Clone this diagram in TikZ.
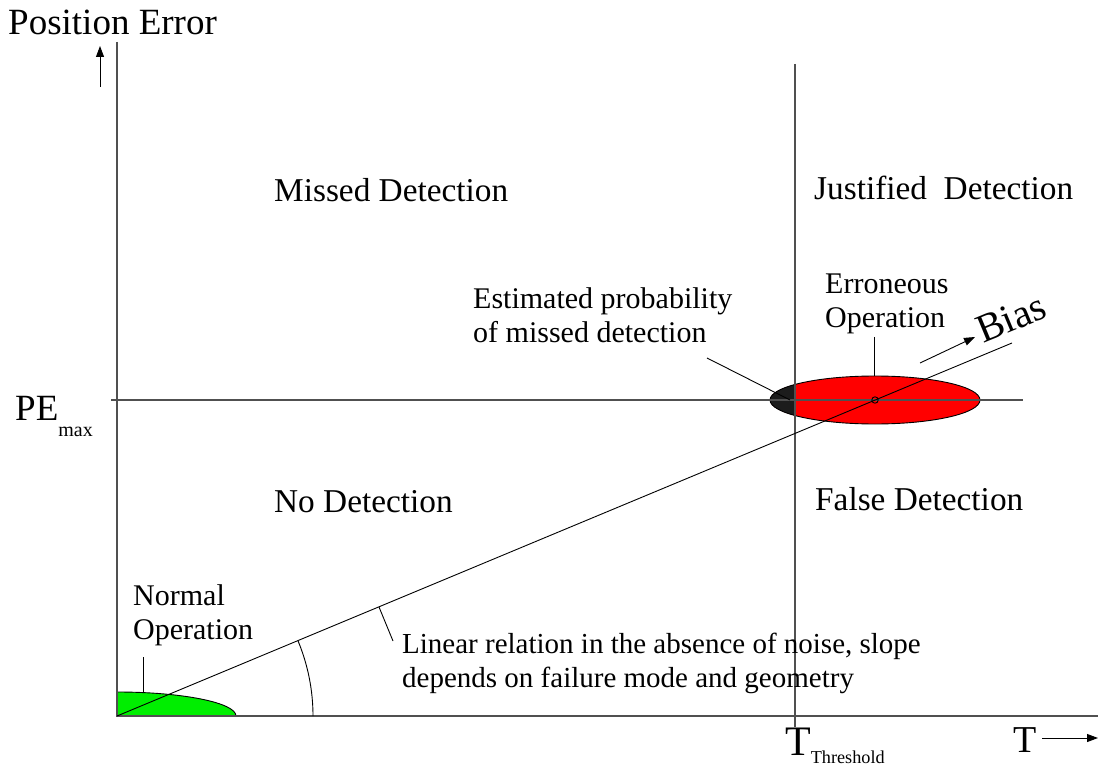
\documentclass[tikz,border=0pt]{standalone}
\usepackage{fontspec}
\setmainfont{Liberation Serif}
\usetikzlibrary{arrows.meta}
\definecolor{errred}{RGB}{255,0,0}
\definecolor{missdark}{RGB}{28,28,28}
\definecolor{normgreen}{RGB}{0,238,0}
\definecolor{axisgray}{RGB}{80,80,80}
\begin{document}
\begin{tikzpicture}[x=1pt,y=-1pt,
  axisline/.style={line width=1.4pt, draw=axisgray},
  thinline/.style={line width=0.9pt, draw=black},
  pointer/.style={thinline, -{Triangle[length=11pt,width=8pt]}},
  region/.style={inner sep=0pt, anchor=base west, font=\fontsize{33.3}{33.3}\selectfont},
  note/.style={inner sep=0pt, anchor=base west, align=left, font=\fontsize{30}{34}\selectfont},
  bigtxt/.style={inner sep=0pt, anchor=base west, font=\fontsize{37}{37}\selectfont}]
\useasboundingbox (0,0) rectangle (1098,767);

% key points of the chart
\coordinate (O) at (117,716);
\coordinate (ytop) at (117,42);
\coordinate (xend) at (1098,716);
\coordinate (thtop) at (795,64);
\coordinate (thbot) at (795,727);
\coordinate (pel) at (111,400);
\coordinate (per) at (1023,400);
\coordinate (E) at (875,400);
\coordinate (biasend) at (1012,343);

% normal operation region (quarter ellipse at the origin)
\fill[normgreen] (O) -- (117,692) arc[start angle=-90, end angle=0, x radius=119, y radius=24] -- cycle;
\draw[thinline] (117,692) arc[start angle=-90, end angle=0, x radius=119, y radius=24];

% erroneous operation ellipse, part left of the threshold darkened
\fill[errred] (E) ellipse[x radius=105, y radius=24];
\begin{scope}
  \clip (600,360) rectangle (795,440);
  \fill[missdark] (E) ellipse[x radius=105, y radius=24];
\end{scope}
\draw[thinline] (E) ellipse[x radius=105, y radius=24];

% axes, threshold and PE_max lines
\draw[axisline] (ytop) -- (O) -- (xend);
\draw[axisline] (thtop) -- (thbot);
\draw[axisline] (pel) -- (per);

% linear bias relation and its angle
\draw[thinline] (O) -- (biasend);
\draw[thinline] (313,716) arc[start angle=0, end angle=-22.63, radius=196];
\draw[thinline] (E) circle[radius=3.2pt];

% axis direction arrows
\coordinate (yarrA) at (100,87);
\coordinate (yarrB) at (100,46);
\draw[pointer] (yarrA) -- (yarrB);
\coordinate (xarrA) at (1042,738);
\coordinate (xarrB) at (1098,738);
\draw[pointer] (xarrA) -- (xarrB);
\coordinate (barrA) at (920,363);
\coordinate (barrB) at (975,337);
\draw[pointer] (barrA) -- (barrB);

% axis labels
\node[bigtxt] (pe) at (8,35) {Position Error};
\node[bigtxt] (pemax) at (15,420) {PE\raisebox{-16pt}{\fontsize{20}{20}\selectfont max}};
\node[inner sep=0pt, anchor=base west, font=\fontsize{42}{42}\selectfont] (tth) at (785,755) {T\raisebox{-8pt}{\fontsize{18.2}{18.2}\selectfont Threshold}};
\node[inner sep=0pt, anchor=base west, font=\fontsize{38}{38}\selectfont] (tlab) at (1013,752) {T};
\node[inner sep=0pt, anchor=base west, rotate=22.6, font=\fontsize{40}{40}\selectfont] (bias) at (983,344) {Bias};

% region labels
\node[region] (md) at (274,202) {Missed Detection};
\node[region] (jd) at (814,200) {Justified\ \ Detection};
\node[region] (nd) at (274,512) {No Detection};
\node[region] (fd) at (815,510) {False Detection};

% annotations with leader lines
\node[note] (est) at (473,343) {Estimated probability\\of missed detection};
\coordinate (estA) at (707,358);
\coordinate (estB) at (790,400);
\draw[thinline] (estA) -- (estB);

\node[note] (err) at (825,328) {Erroneous\\Operation};
\coordinate (errA) at (874,337);
\coordinate (errB) at (874,376);
\draw[thinline] (errA) -- (errB);

\node[note] (norm) at (133,639) {Normal\\Operation};
\coordinate (normA) at (143,657);
\coordinate (normB) at (143,692);
\draw[thinline] (normA) -- (normB);

\node[note, font=\fontsize{29}{34}\selectfont] (lin) at (402,687) {Linear relation in the absence of noise, slope\\depends on failure mode and geometry};
\coordinate (linA) at (379,607);
\coordinate (linB) at (393,641);
\draw[thinline] (linA) -- (linB);
\end{tikzpicture}
\end{document}
